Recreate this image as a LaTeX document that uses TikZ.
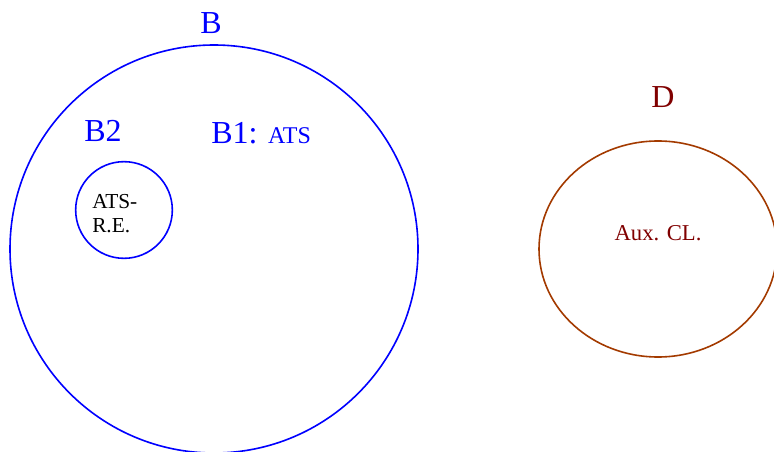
\documentclass[tikz,border=0pt]{standalone}
\usepackage{fontspec}
\setmainfont{Liberation Serif}
\usepackage{xcolor}
\usepackage{tikz}
\usetikzlibrary{shapes.geometric, positioning}
\definecolor{setblue}{HTML}{0000FF}
\definecolor{setbrown}{HTML}{A33A00}
\definecolor{labelred}{HTML}{800000}
\newcommand{\fakesc}[1]{{\fontsize{18}{20}\selectfont #1}}

\begin{document}
\begin{tikzpicture}[
  x=0.75pt, y=-0.75pt,
  setcircle/.style={
    circle, draw=setblue, line width=1.2pt,
    inner sep=0pt
  },
  setellipse/.style={
    ellipse, draw=setbrown, line width=1.2pt,
    inner sep=0pt
  },
  biglabel/.style={font=\fontsize{24}{28}\selectfont, inner sep=0pt},
  smalllabel/.style={font=\fontsize{16}{18}\selectfont, inner sep=0pt}
]
\useasboundingbox (0,0) rectangle (774,452);

% Set B with its subset B2
\node[setcircle, minimum size=306pt] (setB) at (214,249) {};
\node[setcircle, minimum size=72.5pt] (setBtwo) at (124,210) {};
\node[smalllabel, align=left, anchor=west] (atsre) at (92,214)
      {ATS-\\R.E.};

\node[biglabel, text=setblue] (labB) at (211,23) {B};
\node[biglabel, text=setblue] (labBtwo) at (103,131) {B2};
\node[biglabel, text=setblue, anchor=west] (labBone) at (211,133)
      {B1: \fakesc{ATS}};

% Set D
\node[setellipse, minimum width=178.5pt, minimum height=162pt] (setD)
      at (658,249) {};
\node[biglabel, text=labelred] (labD) at (663,97) {D};
\node[font=\fontsize{17}{20}\selectfont, inner sep=0pt, text=labelred]
      (aux) at (658,233) {Aux. CL.};

\end{tikzpicture}
\end{document}
